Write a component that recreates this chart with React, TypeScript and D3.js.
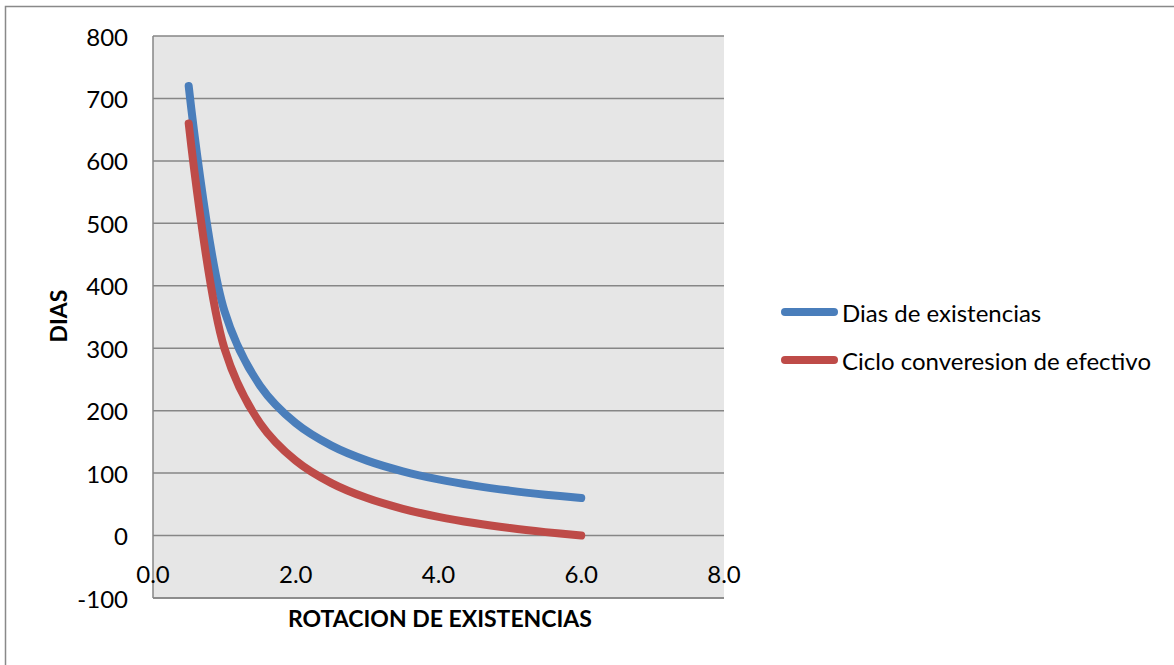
import React from "react";
import * as d3 from "d3";

const rotation = [0.5, 1.0, 1.5, 2.0, 2.5, 3.0, 3.5, 4.0, 4.5, 5.0, 5.5, 6.0];
const diasExistencias = [720, 360, 240, 180, 144, 120, 102.9, 90, 80, 72, 65.5, 60];
const cicloEfectivo = [660, 300, 180, 120, 84, 60, 42.9, 30, 20, 12, 5.5, 0];
const yTicks = [-100, 0, 100, 200, 300, 400, 500, 600, 700, 800];
const xTicks = [0, 2, 4, 6, 8];
const seriesNames = ["Dias de existencias", "Ciclo converesion de efectivo"];
const seriesColors = ["#4a7ebb", "#be4b48"];

const W = 1174;
const H = 665;
const left = 153, right = 724, top = 36, bottom = 598;
const font = "Lato, 'Open Sans', sans-serif";

export default function App() {
  const x = d3.scaleLinear().domain([0, 8]).range([left, right]);
  const y = d3.scaleLinear().domain([-100, 800]).range([bottom, top]);
  const line = d3
    .line<[number, number]>()
    .x((d) => x(d[0]))
    .y((d) => y(d[1]))
    .curve(d3.curveCatmullRom.alpha(0.5));
  const series = [diasExistencias, cicloEfectivo];

  return (
    <svg
      width={W}
      height={H}
      style={{ position: "absolute", left: 0, top: 0, display: "block" }}
    >
      <rect x={0} y={0} width={W} height={H} fill="#fff" />
      <path d={`M5.5,${H} L5.5,6.5 L${W},6.5`} fill="none" stroke="#898989" strokeWidth={1.5} />
      <rect x={left} y={top} width={right - left} height={bottom - top} fill="#e6e6e6" />
      {yTicks.map((t) => (
        <line key={t} x1={left} x2={right} y1={y(t)} y2={y(t)} stroke="#868686" strokeWidth={1.5} />
      ))}
      <line x1={left} x2={left} y1={top} y2={bottom} stroke="#868686" strokeWidth={1.5} />
      <line x1={left} x2={right} y1={bottom} y2={bottom} stroke="#868686" strokeWidth={1.5} />
      {yTicks.map((t) => (
        <text
          key={"l" + t}
          x={128}
          y={y(t)}
          textAnchor="end"
          dominantBaseline="central"
          fontFamily={font}
          fontSize={24}
          fill="#000"
        >
          {t}
        </text>
      ))}
      {xTicks.map((t) => (
        <text
          key={"x" + t}
          x={x(t)}
          y={573}
          textAnchor="middle"
          dominantBaseline="central"
          fontFamily={font}
          fontSize={24}
          fill="#000"
        >
          {t.toFixed(1)}
        </text>
      ))}
      {series.map((s, i) => (
        <path
          key={"s" + i}
          d={line(rotation.map((r, j) => [r, s[j]] as [number, number])) || ""}
          fill="none"
          stroke={seriesColors[i]}
          strokeWidth={8}
          strokeLinecap="round"
          strokeLinejoin="round"
        />
      ))}
      <text
        x={440}
        y={618}
        textAnchor="middle"
        dominantBaseline="central"
        fontFamily={font}
        fontSize={23}
        fontWeight="bold"
      >
        ROTACION DE EXISTENCIAS
      </text>
      <text
        transform={`translate(58,316) rotate(-90)`}
        textAnchor="middle"
        dominantBaseline="central"
        fontFamily={font}
        fontSize={23}
        fontWeight="bold"
      >
        DIAS
      </text>
      {seriesNames.map((n, i) => (
        <g key={n}>
          <line
            x1={785}
            x2={834}
            y1={312 + i * 48}
            y2={312 + i * 48}
            stroke={seriesColors[i]}
            strokeWidth={8}
            strokeLinecap="round"
          />
          <text
            x={842}
            y={312 + i * 48}
            dominantBaseline="central"
            fontFamily={font}
            fontSize={24}
          >
            {n}
          </text>
        </g>
      ))}
    </svg>
  );
}
